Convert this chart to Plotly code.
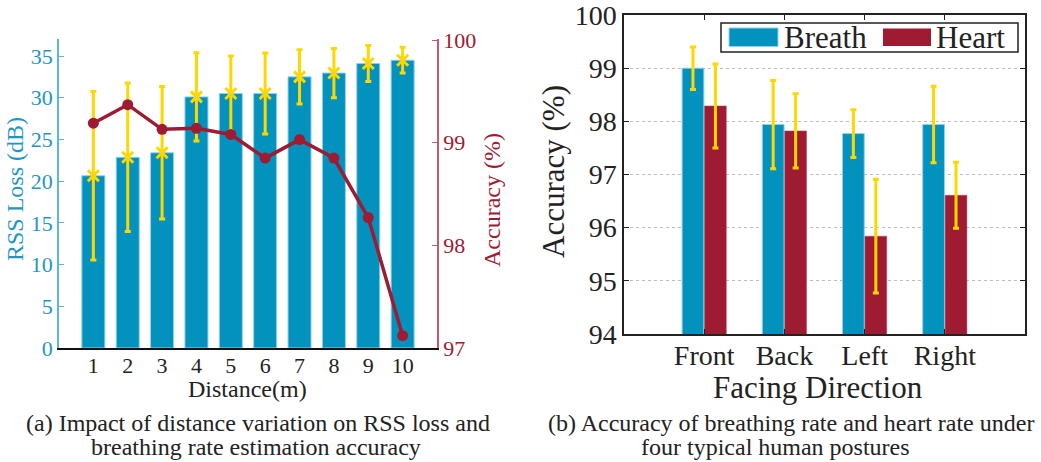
import plotly.graph_objects as go

# ---- data: (a) distance sweep ----
distance = [1, 2, 3, 4, 5, 6, 7, 8, 9, 10]
rss_loss = [20.65, 22.86, 23.4, 30.1, 30.5, 30.5, 32.5, 32.96, 34.1, 34.5]
rss_err = [10.1, 8.9, 7.95, 5.3, 4.5, 4.85, 3.25, 2.95, 2.15, 1.55]
acc_dist = [99.19, 99.37, 99.13, 99.14, 99.08, 98.85, 99.03, 98.85, 98.27, 97.12]

# ---- data: (b) facing direction ----
directions = ["Front", "Back", "Left", "Right"]
breath_acc = [99.0, 97.94, 97.77, 97.94]
breath_err = [0.40, 0.83, 0.45, 0.72]
heart_acc = [98.29, 97.82, 95.84, 96.61]
heart_err = [0.79, 0.70, 1.07, 0.62]

BLUE = "#0391BD"
EDGE = "#8FD3EA"
RED = "#9E1B32"
GOLD = "#FFD700"
AX_BLUE = "#5DB6D8"
TXT_BLUE = "#1E96C4"
AX_RED = "#C45A70"
INK = "#222222"
FONT = "Liberation Serif, 'Times New Roman', Times, serif"
W, H = 1041, 462


def px_x(x):
    return x / W


def px_y(y):
    return 1 - y / H


fig = go.Figure()

# (a) RSS loss bars with yellow error bars
fig.add_trace(go.Bar(
    x=distance, y=rss_loss, width=0.67,
    marker=dict(color=BLUE, line=dict(color=EDGE, width=1)),
    xaxis="x", yaxis="y", showlegend=False,
))
fig.add_trace(go.Scatter(
    x=distance, y=rss_loss, mode="markers",
    marker=dict(symbol="x-thin", size=11, color=GOLD, line=dict(color=GOLD, width=3)),
    error_y=dict(type="data", array=rss_err, color=GOLD, thickness=3, width=3),
    xaxis="x", yaxis="y", showlegend=False,
))
# (a) accuracy line on the right axis
fig.add_trace(go.Scatter(
    x=distance, y=acc_dist, mode="lines+markers",
    line=dict(color=RED, width=3.5),
    marker=dict(size=11, color=RED),
    xaxis="x", yaxis="y2", showlegend=False,
))

# (b) grouped bars
fig.add_trace(go.Bar(
    x=[1, 2, 3, 4], y=breath_acc, name="Breath",
    marker=dict(color=BLUE, line=dict(color=EDGE, width=1)),
    error_y=dict(type="data", array=breath_err, color=GOLD, thickness=3, width=3),
    xaxis="x2", yaxis="y3", showlegend=False,
))
fig.add_trace(go.Bar(
    x=[1, 2, 3, 4], y=heart_acc, name="Heart",
    marker=dict(color=RED, line=dict(color="#B8485C", width=0.5)),
    error_y=dict(type="data", array=heart_err, color=GOLD, thickness=3, width=3),
    xaxis="x2", yaxis="y3", showlegend=False,
))

# plot areas in pixels
A_L, A_R, A_T, A_B = 59, 437, 39, 348
B_L, B_R, B_T, B_B = 624, 1025, 15, 334

common = dict(automargin=False, ticklabeloverflow="allow", zeroline=False)

fig.update_layout(
    width=W, height=H, autosize=False,
    margin=dict(l=0, r=0, t=0, b=0, pad=0),
    paper_bgcolor="white", plot_bgcolor="white",
    barmode="group", bargap=0.44, bargroupgap=0.03,
    font=dict(family=FONT, color=INK),
    xaxis=dict(
        domain=[px_x(A_L), px_x(A_R)], anchor="y", range=[0, 11],
        tickvals=distance, ticktext=[str(d) for d in distance],
        showline=True, linecolor="#111111", linewidth=2,
        ticks="", showgrid=False, ticklabelstandoff=-3,
        tickfont=dict(family=FONT, size=22, color=INK), **common,
    ),
    yaxis=dict(
        domain=[px_y(A_B), px_y(A_T)], anchor="x", range=[0, 37.04],
        tickvals=[0, 5, 10, 15, 20, 25, 30, 35],
        showline=True, linecolor=AX_BLUE, linewidth=1.5,
        ticks="inside", ticklen=5, tickcolor=AX_BLUE, tickwidth=1,
        showgrid=False,
        tickfont=dict(family=FONT, size=22, color=TXT_BLUE), **common,
    ),
    yaxis2=dict(
        overlaying="y", side="right", anchor="x", range=[97, 100.01],
        tickvals=[97, 98, 99, 100],
        showline=True, linecolor=AX_RED, linewidth=1.5,
        ticks="inside", ticklen=5, tickcolor=AX_RED, tickwidth=1,
        showgrid=False,
        tickfont=dict(family=FONT, size=22, color=RED), **common,
    ),
    xaxis2=dict(
        domain=[px_x(B_L), px_x(B_R)], anchor="y3", range=[0, 5],
        tickvals=[1, 2, 3, 4], ticktext=directions,
        showline=True, mirror="ticks", linecolor=INK, linewidth=1.5,
        ticks="inside", ticklen=5, tickcolor=INK,
        showgrid=False, ticklabelstandoff=-4,
        tickfont=dict(family=FONT, size=28, color=INK), **common,
    ),
    yaxis3=dict(
        domain=[px_y(B_B), px_y(B_T)], anchor="x2", range=[94, 100],
        tickvals=[94, 95, 96, 97, 98, 99, 100],
        showline=True, mirror="ticks", linecolor=INK, linewidth=1.5,
        ticks="inside", ticklen=5, tickcolor=INK,
        showgrid=True, gridcolor="#BEBEBE", griddash="dot", gridwidth=1,
        tickfont=dict(family=FONT, size=28, color=INK), **common,
    ),
)

annotations = [
    # axis titles, (a)
    dict(text="RSS Loss (dB)", x=px_x(15), y=px_y(189), textangle=-90,
         font=dict(size=24, color=TXT_BLUE)),
    dict(text="Accuracy (%)", x=px_x(492), y=px_y(200), textangle=-90,
         font=dict(size=24, color=RED)),
    dict(text="Distance(m)", x=px_x(247), y=px_y(389),
         font=dict(size=24, color=INK)),
    # axis titles, (b)
    dict(text="Accuracy (%)", x=px_x(553), y=px_y(172), textangle=-90,
         font=dict(size=31, color=INK)),
    dict(text="Facing Direction", x=px_x(818), y=px_y(387),
         font=dict(size=31, color=INK)),
    # captions
    dict(text="(a) Impact of distance variation on RSS loss and", x=px_x(258), y=px_y(423),
         font=dict(size=24, color=INK)),
    dict(text="breathing rate estimation accuracy", x=px_x(256), y=px_y(447),
         font=dict(size=24, color=INK)),
    dict(text="(b) Accuracy of breathing rate and heart rate under", x=px_x(791), y=px_y(423),
         font=dict(size=24, color=INK)),
    dict(text="four typical human postures", x=px_x(775), y=px_y(447),
         font=dict(size=24, color=INK)),
    # legend labels
    dict(text="Breath", x=px_x(782), y=px_y(37.5), xanchor="left",
         font=dict(size=31, color=INK)),
    dict(text="Heart", x=px_x(934), y=px_y(37.5), xanchor="left",
         font=dict(size=31, color=INK)),
]
for a in annotations:
    a.setdefault("xanchor", "center")
    a["font"]["family"] = FONT
    a.update(xref="paper", yref="paper", yanchor="middle", showarrow=False)
fig.update_layout(annotations=annotations)

# legend box and swatches for (b)
shapes = [
    dict(type="rect", x0=px_x(721), x1=px_x(1018), y0=px_y(52), y1=px_y(23),
         line=dict(color=INK, width=1.5), fillcolor="white"),
    dict(type="rect", x0=px_x(729), x1=px_x(778), y0=px_y(46.5), y1=px_y(28),
         line=dict(color=EDGE, width=1), fillcolor=BLUE),
    dict(type="rect", x0=px_x(883), x1=px_x(931), y0=px_y(46), y1=px_y(28.5),
         line=dict(width=0), fillcolor=RED),
]
for s in shapes:
    s.update(xref="paper", yref="paper", layer="above")
fig.update_layout(shapes=shapes)

fig.write_html("out.html")
